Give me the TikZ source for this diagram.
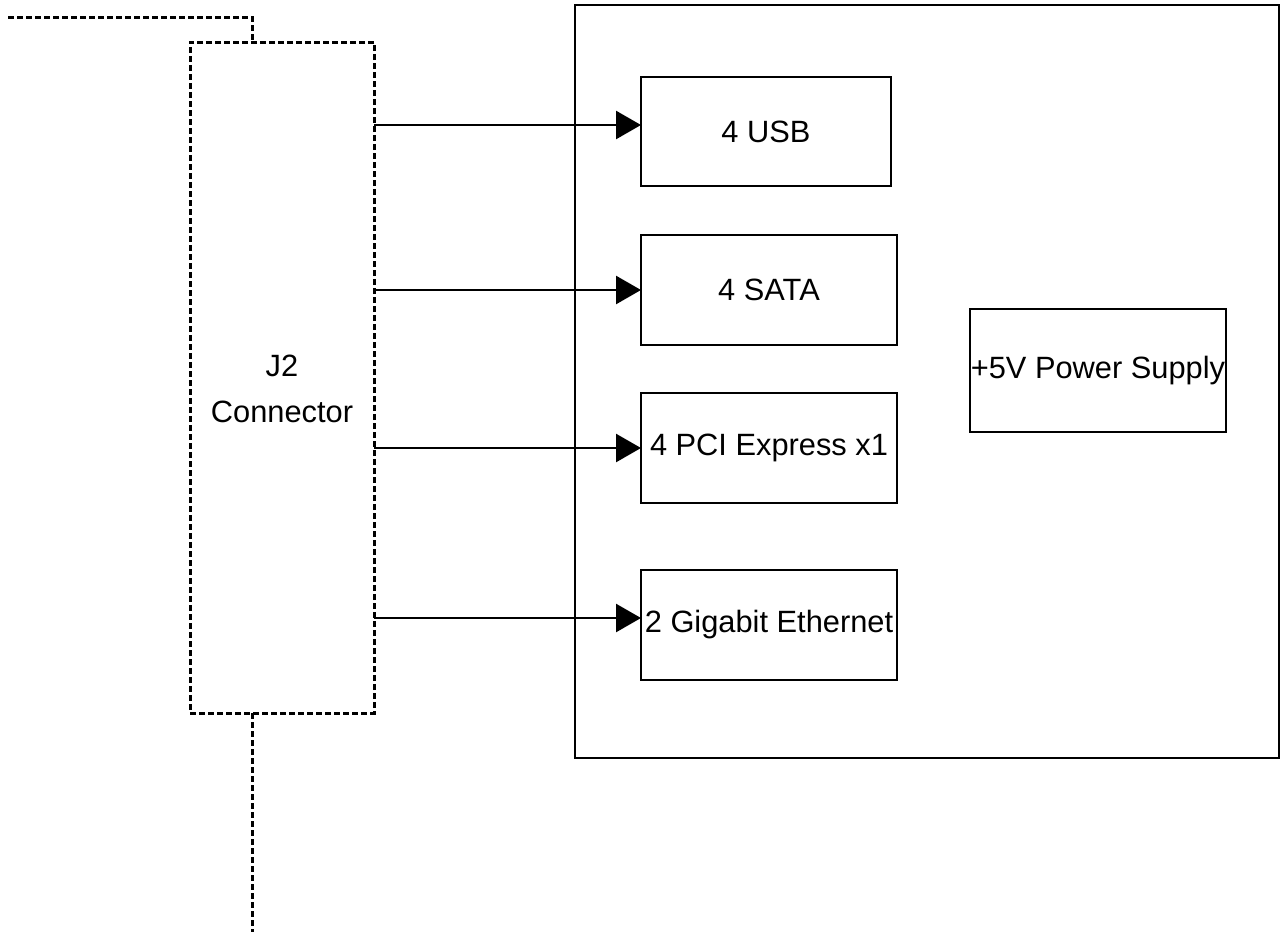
\documentclass[tikz,border=0pt]{standalone}
\usepackage{fontspec}
\setmainfont{Liberation Sans}
\usepackage{tikz}
\usetikzlibrary{positioning, arrows.meta, shapes}

\tikzset{
  block/.style={draw, line width=1.3pt, inner sep=0pt, outer sep=0pt, align=center,
    font=\fontsize{15.4pt}{18.5pt}\selectfont},
  dashbox/.style={block, dash pattern=on 3pt off 1.5pt, line width=1.5pt},
  link/.style={line width=1.3pt, -{Triangle[length=12.5pt, width=14pt]}},
  bus/.style={line width=1.5pt, dash pattern=on 3pt off 1.5pt}
}

\begin{document}
\begin{tikzpicture}[x=0.5pt, y=-0.5pt]
    \useasboundingbox (0,0) rectangle (1281,932);
    % carrier board
    \node [block, minimum width=352pt, minimum height=376.5pt] (board) at (927,381.5) {};
    \node [dashbox, minimum width=92pt, minimum height=335.5pt,
      font=\fontsize{15.4pt}{23pt}\selectfont] (j2) at (282,377.5) {\\[-1pt]J2\\Connector};
    \node [block, minimum width=125pt, minimum height=54.5pt] (usb) at (766,131.5) {4 USB};
    \node [block, minimum width=128pt, minimum height=55pt] (sata) at (769,290) {4 SATA};
    \node [block, minimum width=128pt, minimum height=55pt] (pcie) at (769,448) {4 PCI Express x1};
    \node [block, minimum width=128pt, minimum height=55pt] (gbe) at (769,625) {2 Gigabit Ethernet};
    \node [block, minimum width=128pt, minimum height=61.5pt] (power) at (1098,370.5) {+5V Power Supply};
    % bus lines
    \coordinate (busTop) at (8,17);
    \coordinate (busBot) at (252,932);
    \draw [bus] (busTop) -| ([xshift=-15pt]j2.north);
    \draw [bus] ([xshift=-15pt]j2.south) -- (busBot);
    % signals
    \draw [link] (j2.east |- 0,125) -- (usb.west |- 0,125);
    \draw [link] (j2.east |- sata.west) -- (sata.west);
    \draw [link] (j2.east |- pcie.west) -- (pcie.west);
    \draw [link] (j2.east |- 0,618) -- (gbe.west |- 0,618);
\end{tikzpicture}
\end{document}
